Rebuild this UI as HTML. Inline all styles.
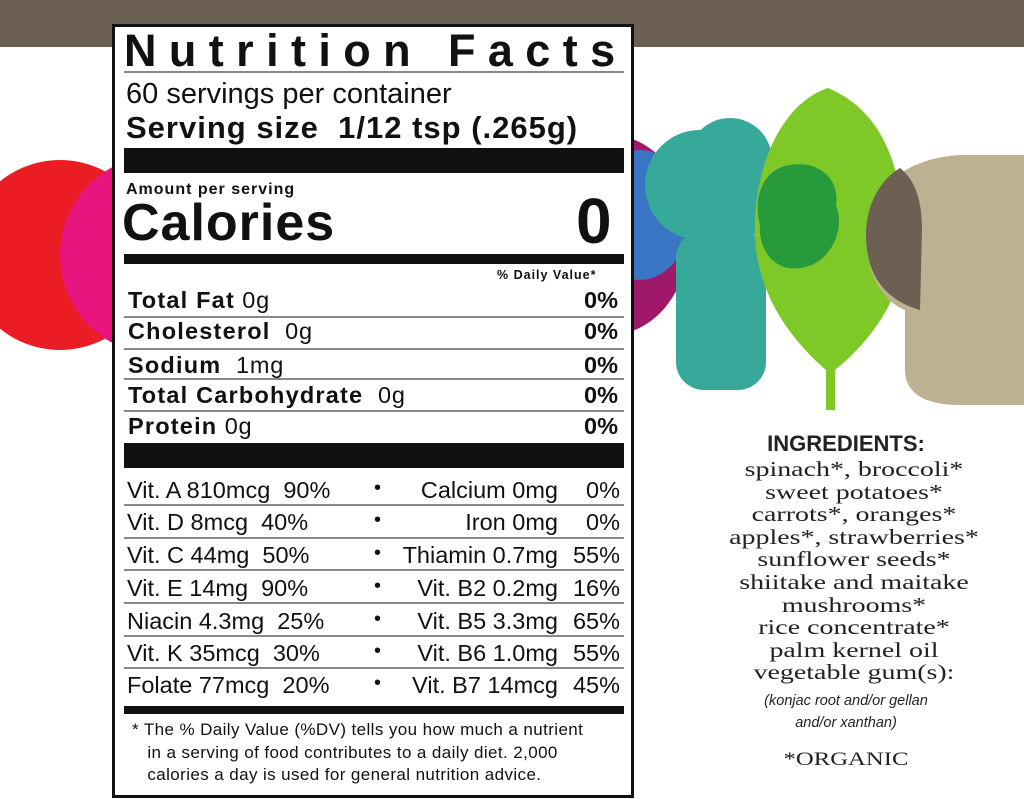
<!DOCTYPE html>
<html><head><meta charset="utf-8"><style>
*{margin:0;padding:0;box-sizing:border-box}
body{width:1024px;height:799px;position:relative;overflow:hidden;background:#fff;font-family:"Liberation Sans",sans-serif;color:#111}
.a{position:absolute;white-space:nowrap}
.hl{position:absolute;left:124px;width:500px;height:2px;background:#888}
.bar{position:absolute;left:124px;width:500px;background:#111}
.b{font-weight:bold}
.row{position:absolute;left:128px;width:490px;font-size:23.5px;line-height:26px;letter-spacing:0.8px}
.row b{letter-spacing:1.2px}
.row .r{position:absolute;right:0;top:0;font-weight:bold;letter-spacing:0}
.v{position:absolute;left:127px;width:493px;font-size:23.5px;line-height:26px}
.v .m{position:absolute;right:62px;top:0}
.v .p{position:absolute;right:0;top:0}
.v .d{position:absolute;left:247px;top:-2px;font-size:20px}
.ing{position:absolute;left:684px;width:340px;text-align:center;font-family:"Liberation Serif",serif;font-size:21px;line-height:22.6px;color:#222;transform:scaleX(1.33);transform-origin:170px 0}
</style></head><body>
<div class="a" style="left:0;top:0;width:1024px;height:47px;background:#6b6052"></div>
<svg class="a" style="left:0;top:0" width="1024" height="799">
<ellipse cx="200" cy="255" rx="115" ry="110" fill="#a0186a"/>
<circle cx="60" cy="255" r="95" fill="#ec1c24"/>
<ellipse cx="160" cy="255" rx="100" ry="100" fill="#e8157f"/>
<ellipse cx="610" cy="235" rx="80" ry="100" fill="#a0186a"/>
<ellipse cx="640" cy="215" rx="50" ry="65" fill="#3a74c4"/>
<rect x="676" y="230" width="90" height="160" rx="28" fill="#37a99a"/>
<circle cx="700" cy="185" r="55" fill="#37a99a"/>
<circle cx="730" cy="160" r="42" fill="#37a99a"/>
<circle cx="750" cy="200" r="35" fill="#37a99a"/>
<path d="M828 88 C880 110 900 160 905 230 C910 300 860 350 835 370 L835 410 L826 410 L826 370 C780 330 752 280 755 220 C758 150 790 100 828 88Z" fill="#7ec928"/>
<path d="M790 165 C820 160 840 180 836 205 C846 230 830 265 800 268 C775 272 758 250 760 225 C752 195 765 168 790 165Z" fill="#279a3c"/>
<path d="M960 155 L1024 155 L1024 405 L960 405 C920 405 905 390 905 370 L905 310 C880 300 866 270 866 235 C866 190 905 158 960 155Z" fill="#bdb191"/>
<path d="M900 168 C880 180 866 205 866 235 C866 275 885 300 920 310 L922 230 C922 200 915 180 900 168Z" fill="#6b6052"/>
</svg>
<div class="a" style="left:112px;top:24px;width:522px;height:774px;background:#fff;border:3px solid #111"></div>
<div class="a" style="left:124px;top:26px;font-size:45px;font-weight:900;line-height:50px;letter-spacing:12.4px">Nutrition Facts</div>
<div class="hl" style="top:71px"></div>
<div class="a" style="left:126px;top:78px;font-size:29px;line-height:32px">60 servings per container</div>
<div class="a b" style="left:126px;top:112px;font-size:31px;line-height:32px;letter-spacing:1px">Serving size&nbsp; 1/12 tsp (.265g)</div>
<div class="bar" style="top:148px;height:25px"></div>
<div class="a b" style="left:126px;top:181px;font-size:16px;letter-spacing:1px">Amount per serving</div>
<div class="a b" style="left:122px;top:194px;font-size:52px;line-height:58px;letter-spacing:1px">Calories</div>
<div class="a b" style="left:576px;top:186px;font-size:64px;line-height:70px">0</div>
<div class="bar" style="top:254px;height:10px"></div>
<div class="a b" style="left:497px;top:268px;font-size:12.5px;letter-spacing:1px">% Daily Value*</div>
<div class="row" style="top:287px"><b>Total Fat</b> 0g<span class="r">0%</span></div>
<div class="hl" style="top:316px"></div>
<div class="row" style="top:318px"><b>Cholesterol</b>&nbsp; 0g<span class="r">0%</span></div>
<div class="hl" style="top:348px"></div>
<div class="row" style="top:352px"><b>Sodium</b>&nbsp; 1mg<span class="r">0%</span></div>
<div class="hl" style="top:378px"></div>
<div class="row" style="top:382px"><b>Total Carbohydrate</b>&nbsp; 0g<span class="r">0%</span></div>
<div class="hl" style="top:410px"></div>
<div class="row" style="top:413px"><b>Protein</b> 0g<span class="r">0%</span></div>
<div class="bar" style="top:443px;height:25px"></div>
<div class="v" style="top:477px">Vit. A 810mcg&nbsp; 90%<span class="d">•</span><span class="m">Calcium 0mg</span><span class="p">0%</span></div>
<div class="hl" style="top:504px"></div>
<div class="v" style="top:509px">Vit. D 8mcg&nbsp; 40%<span class="d">•</span><span class="m">Iron 0mg</span><span class="p">0%</span></div>
<div class="hl" style="top:537px"></div>
<div class="v" style="top:542px">Vit. C 44mg&nbsp; 50%<span class="d">•</span><span class="m">Thiamin 0.7mg</span><span class="p">55%</span></div>
<div class="hl" style="top:569px"></div>
<div class="v" style="top:575px">Vit. E 14mg&nbsp; 90%<span class="d">•</span><span class="m">Vit. B2 0.2mg</span><span class="p">16%</span></div>
<div class="hl" style="top:602px"></div>
<div class="v" style="top:608px">Niacin 4.3mg&nbsp; 25%<span class="d">•</span><span class="m">Vit. B5 3.3mg</span><span class="p">65%</span></div>
<div class="hl" style="top:635px"></div>
<div class="v" style="top:640px">Vit. K 35mcg&nbsp; 30%<span class="d">•</span><span class="m">Vit. B6 1.0mg</span><span class="p">55%</span></div>
<div class="hl" style="top:667px"></div>
<div class="v" style="top:672px">Folate 77mcg&nbsp; 20%<span class="d">•</span><span class="m">Vit. B7 14mcg</span><span class="p">45%</span></div>
<div class="bar" style="top:706px;height:8px"></div>
<div class="a" style="left:132px;top:719px;font-size:17px;line-height:22.5px;letter-spacing:0.4px">* The % Daily Value (%DV) tells you how much a nutrient<br>&nbsp;&nbsp; in a serving of food contributes to a daily diet. 2,000<br>&nbsp;&nbsp; calories a day is used for general nutrition advice.</div>
<div class="a b" style="left:676px;top:431px;width:340px;text-align:center;font-size:22px;color:#222">INGREDIENTS:</div>
<div class="ing" style="top:458px">spinach*, broccoli*<br>sweet potatoes*<br>carrots*, oranges*<br>apples*, strawberries*<br>sunflower seeds*<br>shiitake and maitake<br>mushrooms*<br>rice concentrate*<br>palm kernel oil<br>vegetable gum(s):</div>
<div class="a" style="left:676px;top:690px;width:340px;text-align:center;font-size:14.5px;line-height:22px;font-style:italic;color:#222">(konjac root and/or gellan<br>and/or xanthan)</div>
<div class="a" style="left:676px;top:749px;width:340px;text-align:center;font-family:'Liberation Serif',serif;font-size:19px;color:#222;transform:scaleX(1.3)">*ORGANIC</div>
</body></html>
